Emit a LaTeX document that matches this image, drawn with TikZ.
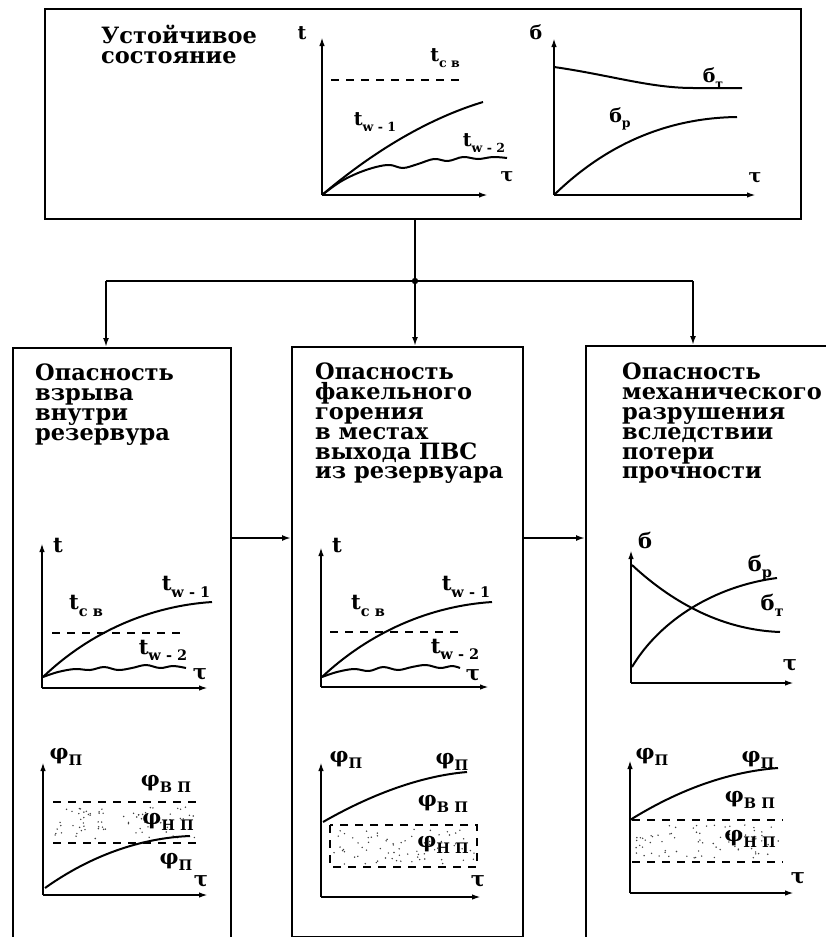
\documentclass[tikz,border=0pt]{standalone}
\usepackage{fontspec}
\usepackage{graphicx}
\newfontfamily\heavy{DejaVu Serif}
\usetikzlibrary{arrows.meta}
% symbol with a lowered index, two sizes
\newcommand\lbA[2]{#1\raisebox{-0.3em}{\fontsize{14.5}{14.5}\selectfont#2}}
\newcommand\lbB[2]{#1\raisebox{-0.3em}{\fontsize{12.5}{12.5}\selectfont#2}}
\newcommand\gap{\hspace{0.35em}}
\tikzset{
  box/.style={draw, line width=2.2pt, inner sep=0pt, anchor=north west},
  conn/.style={line width=2pt},
  arr/.style={conn, -{Latex[length=9pt,width=6pt]}},
  axis/.style={line width=2pt, -{Latex[length=9pt,width=5.5pt]}},
  curve/.style={line width=2pt},
  thr/.style={line width=1.6pt, dash pattern=on 8pt off 7pt},
  ttl/.style={font=\heavy\bfseries\fontsize{22.5}{19.8}\selectfont, align=left, anchor=north west, inner sep=0pt},
  la/.style={font=\heavy\bfseries\fontsize{21}{21}\selectfont, inner sep=0pt},
  lb/.style={font=\heavy\bfseries\fontsize{19}{19}\selectfont, inner sep=0pt},
  dot/.style={fill=black!75}
}
\begin{document}
\begin{tikzpicture}[x=1pt, y=-1pt]
\useasboundingbox (0,0) rectangle (825,937);
\fill[white] (0,0) rectangle (825,937);

% ---------- boxes ----------
\node[box, minimum width=756pt, minimum height=210pt] (top) at (44,8) {};
\node[box, minimum width=218pt, minimum height=590pt] (boxA) at (12,347) {};
\node[box, minimum width=231pt, minimum height=590pt] (boxB) at (291,346) {};
\node[box, minimum width=250pt, minimum height=592pt] (boxC) at (585,345) {};

% ---------- connectors ----------
\coordinate (jn) at (415,281);
\coordinate (dA) at (106,281);
\coordinate (dC) at (693,281);
\coordinate (hy) at (0,538);
\draw[conn] (top.south -| jn) -- (jn);
\draw[conn] (dA) -- (dC);
\fill (jn) circle (3.2pt);
\draw[arr] (dA) -- (dA |- boxA.north);
\draw[arr] (jn) -- (jn |- boxB.north);
\draw[arr] (dC) -- (dC |- boxC.north);
\draw[arr] (boxA.east |- hy) -- (boxB.west |- hy);
\draw[arr] (boxB.east |- hy) -- (boxC.west |- hy);

% ---------- titles ----------
\node[ttl] (ttop) at (101,25) {Устойчивое\\состояние};
\node[ttl] (tA) at (35,364) {Опасность\\взрыва\\внутри\\резервура};
\node[ttl] (tB) at (315,363) {Опасность\\факельного\\горения\\в местах\\выхода ПВС\\из резервуара};
\node[ttl] (tC) at (622,363) {Опасность\\механического\\разрушения\\вследствии\\потери\\прочности};

% ---------- top box: temperature plot ----------
\draw[axis] (322,195) -- (322,37);
\draw[axis] (322,195) -- (488,195);
\draw[thr] (331,80) -- (460,80);
\draw[curve] (322,195) .. controls (375,150) and (430,118) .. (483,102);
\draw[curve] plot[smooth, tension=0.6] coordinates {(322,195) (340,182) (358,173) (376,167) (390,165) (403,168) (418,164) (434,159) (448,161) (463,157) (478,159) (493,157) (507,158)};
\node[lb] (a1) at (302,33) {t};
\node[lb] (a2) at (445,58) {\lbB{t}{с\gap в}};
\node[lb] (a3) at (375,122) {\lbB{t}{w\gap-\gap1}};
\node[lb] (a4) at (484,143) {\lbB{t}{w\gap-\gap2}};
\node[lb] (a5) at (507,177) {τ};

% ---------- top box: stress plot ----------
\draw[axis] (554,195) -- (554,38);
\draw[axis] (554,195) -- (756,195);
\draw[curve] (554,67) .. controls (610,75) and (650,88) .. (693,88) -- (742,88);
\draw[curve] (554,195) .. controls (600,150) and (660,118) .. (737,117);
\node[lb] (b1) at (536,32) {б};
\node[lb] (b2) at (713,78) {\lbB{б}{т}};
\node[lb] (b3) at (620,119) {\lbB{б}{р}};
\node[lb] (b4) at (755,178) {τ};

% ---------- box A: temperature ----------
\draw[axis] (42,688) -- (42,543);
\draw[axis] (42,688) -- (208,688);
\draw[thr] (52,633) -- (182,633);
\draw[curve] (43,677) .. controls (90,632) and (150,606) .. (212,602);
\draw[curve] plot[smooth, tension=0.6] coordinates {(43,677) (58,672) (75,669) (90,670) (104,667) (118,670) (132,668) (146,665) (160,668) (173,666) (186,668)};
\node[la] (c1) at (58,545) {t};
\node[la] (c2) at (86,606) {\lbA{t}{с\gap в}};
\node[la] (c3) at (186,587) {\lbA{t}{w\gap-\gap1}};
\node[la] (c4) at (163,650) {\lbA{t}{w\gap-\gap2}};
\node[la] (c5) at (200,674) {τ};

% ---------- box A: concentration ----------
\draw[axis] (43,895) -- (43,762);
\draw[axis] (43,895) -- (208,895);
\draw[thr] (53,802) -- (200,802);
\draw[thr] (53,843) -- (200,843);
\pgfmathsetseed{11}
\foreach \k in {1,...,75}{
  \pgfmathsetmacro\xx{55+143*rnd}
  \pgfmathsetmacro\yy{807+32*rnd}
  \fill[dot] (\xx,\yy) circle (0.8pt);
}
\draw[curve] (45,888) .. controls (90,856) and (140,838) .. (190,836);
\node[la] (d1) at (66,757) {\lbA{φ}{П}};
\node[la] (d2) at (166,784) {\lbA{φ}{В\gap П}};
\node[la] (d3) at (168,822) {\lbA{φ}{Н\gap П}};
\node[la] (d4) at (176,862) {\lbA{φ}{П}};
\node[la] (d5) at (201,881) {τ};

% ---------- box B: temperature ----------
\draw[axis] (321,687) -- (321,547);
\draw[axis] (321,687) -- (489,687);
\draw[thr] (330,632) -- (460,632);
\draw[curve] (322,677) .. controls (370,632) and (430,606) .. (492,602);
\draw[curve] plot[smooth, tension=0.6] coordinates {(322,677) (337,672) (354,669) (369,671) (383,667) (398,670) (412,667) (426,665) (440,668) (452,666) (460,668)};
\node[la] (e1) at (337,545) {t};
\node[la] (e2) at (368,606) {\lbA{t}{с\gap в}};
\node[la] (e3) at (466,587) {\lbA{t}{w\gap-\gap1}};
\node[la] (e4) at (455,649) {\lbA{t}{w\gap-\gap2}};
\node[la] (e5) at (473,675) {τ};

% ---------- box B: concentration ----------
\draw[axis] (321,897) -- (321,762);
\draw[axis] (321,897) -- (481,897);
\draw[thr] (330,825) rectangle (477,867);
\pgfmathsetseed{5}
\foreach \k in {1,...,75}{
  \pgfmathsetmacro\xx{332+143*rnd}
  \pgfmathsetmacro\yy{829+35*rnd}
  \fill[dot] (\xx,\yy) circle (0.8pt);
}
\draw[curve] (323,822) .. controls (370,795) and (420,776) .. (467,772);
\node[la] (f1) at (346,760) {\lbA{φ}{П}};
\node[la] (f2) at (452,762) {\lbA{φ}{П}};
\node[la] (f3) at (443,804) {\lbA{φ}{В\gap П}};
\node[la] (f4) at (443,845) {\lbA{φ}{Н\gap П}};
\node[la] (f5) at (478,881) {τ};

% ---------- box C: stress ----------
\draw[axis] (631,683) -- (631,550);
\draw[axis] (631,683) -- (794,683);
\draw[curve] (632,565) .. controls (675,605) and (725,630) .. (780,632);
\draw[curve] (632,667) .. controls (660,620) and (715,586) .. (777,578);
\node[la] (g1) at (645,540) {б};
\node[la] (g2) at (760,568) {\lbA{б}{р}};
\node[la] (g3) at (772,605) {\lbA{б}{т}};
\node[la] (g4) at (790,665) {τ};

% ---------- box C: concentration ----------
\draw[axis] (630,893) -- (630,760);
\draw[axis] (630,893) -- (794,893);
\draw[thr] (632,820) -- (783,820);
\draw[thr] (632,862) -- (783,862);
\pgfmathsetseed{23}
\foreach \k in {1,...,75}{
  \pgfmathsetmacro\xx{635+146*rnd}
  \pgfmathsetmacro\yy{825+33*rnd}
  \fill[dot] (\xx,\yy) circle (0.8pt);
}
\draw[curve] (630,820) .. controls (675,792) and (725,772) .. (778,768);
\node[la] (h1) at (652,757) {\lbA{φ}{П}};
\node[la] (h2) at (758,760) {\lbA{φ}{П}};
\node[la] (h3) at (750,800) {\lbA{φ}{В\gap П}};
\node[la] (h4) at (750,839) {\lbA{φ}{Н\gap П}};
\node[la] (h5) at (798,878) {τ};
\end{tikzpicture}
\end{document}
